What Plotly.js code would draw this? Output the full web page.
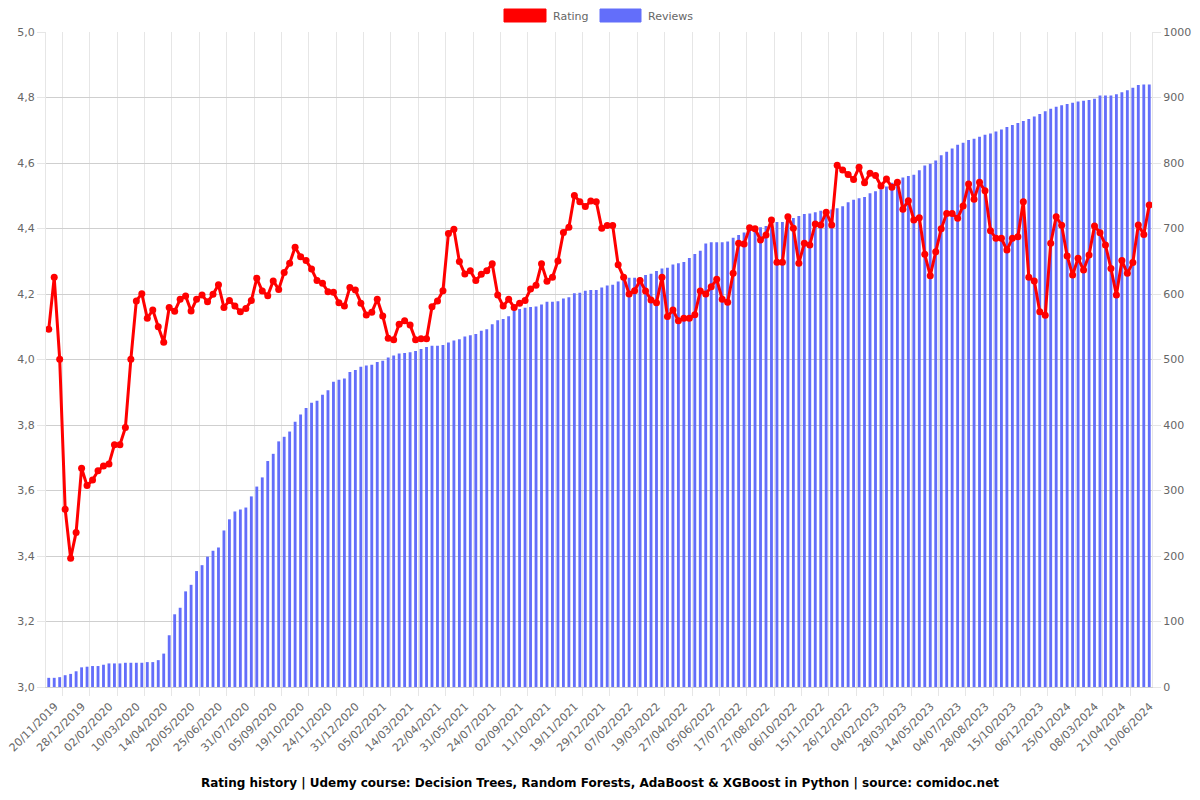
<!DOCTYPE html>
<html>
<head>
<meta charset="utf-8">
<script src="https://cdn.plot.ly/plotly-3.0.1.min.js"></script>
<style>html,body{margin:0;padding:0;background:#fff;}#chart{width:1200px;height:800px;}</style>
</head>
<body>
<div id="chart"></div>
<script>
// Tick labels shown on the category axis (every 5th category)
const tickLabels = [
  "20/11/2019","28/12/2019","02/02/2020","10/03/2020","14/04/2020","20/05/2020","25/06/2020","31/07/2020",
  "05/09/2020","19/10/2020","24/11/2020","31/12/2020","05/02/2021","14/03/2021","22/04/2021","31/05/2021",
  "24/07/2021","02/09/2021","11/10/2021","19/11/2021","29/12/2021","07/02/2022","19/03/2022","27/04/2022",
  "05/06/2022","17/07/2022","27/08/2022","06/10/2022","15/11/2022","26/12/2022","04/02/2023","28/03/2023",
  "14/05/2023","04/07/2023","28/08/2023","15/10/2023","06/12/2023","25/01/2024","08/03/2024","21/04/2024",
  "10/06/2024"
];

// Cumulative reviews (right axis)
const reviews = [
  14,14,15,18,20,24,30,31,32,32,
  34,36,36,36,37,37,37,37,38,38,
  41,51,79,111,121,146,156,177,186,199,
  208,213,239,256,268,271,274,291,306,320,
  345,356,375,382,390,405,416,426,434,437,
  446,453,466,469,471,481,484,489,491,492,
  496,498,503,506,509,510,511,513,516,519,
  521,521,522,526,529,531,535,537,539,544,
  546,554,560,562,566,576,577,579,580,581,
  584,588,588,589,593,595,601,602,605,606,
  606,610,613,614,619,624,625,625,626,629,
  631,635,639,640,645,647,649,655,661,666,
  677,679,679,679,680,686,690,694,698,700,
  702,704,707,710,710,713,716,719,722,723,
  725,727,728,729,731,734,740,744,746,748,
  754,757,760,764,770,774,778,780,782,789,
  796,799,804,812,817,822,828,831,835,837,
  840,843,845,848,851,855,858,861,864,867,
  871,875,879,883,886,888,890,892,894,895,
  896,898,903,903,903,905,908,911,915,919,
  920,920
];

// Average rating (left axis)
const rating = [
  4.092,4.251,4.001,3.543,3.393,3.472,3.668,3.615,3.632,3.660,
  3.675,3.681,3.740,3.740,3.792,4.001,4.179,4.201,4.126,4.151,
  4.100,4.053,4.159,4.147,4.184,4.194,4.148,4.184,4.197,4.176,
  4.199,4.228,4.159,4.180,4.163,4.146,4.156,4.180,4.248,4.209,
  4.195,4.240,4.214,4.266,4.294,4.343,4.314,4.302,4.276,4.241,
  4.233,4.207,4.205,4.173,4.163,4.220,4.212,4.172,4.136,4.144,
  4.184,4.133,4.065,4.060,4.108,4.118,4.105,4.060,4.063,4.063,
  4.161,4.179,4.210,4.385,4.398,4.299,4.261,4.271,4.241,4.260,
  4.271,4.292,4.197,4.163,4.184,4.159,4.172,4.180,4.215,4.227,
  4.292,4.239,4.251,4.301,4.388,4.404,4.501,4.482,4.467,4.484,
  4.482,4.401,4.409,4.409,4.289,4.251,4.200,4.210,4.241,4.209,
  4.182,4.173,4.251,4.131,4.151,4.118,4.126,4.126,4.137,4.209,
  4.200,4.222,4.245,4.184,4.175,4.263,4.355,4.353,4.402,4.399,
  4.365,4.380,4.426,4.297,4.297,4.436,4.401,4.294,4.355,4.350,
  4.414,4.411,4.450,4.411,4.593,4.579,4.565,4.550,4.587,4.540,
  4.569,4.562,4.530,4.551,4.526,4.541,4.459,4.485,4.426,4.433,
  4.321,4.256,4.329,4.399,4.446,4.446,4.431,4.469,4.536,4.489,
  4.541,4.515,4.393,4.370,4.370,4.334,4.370,4.375,4.482,4.251,
  4.240,4.146,4.135,4.355,4.436,4.410,4.316,4.258,4.309,4.273,
  4.319,4.408,4.387,4.350,4.278,4.197,4.302,4.263,4.296,4.411,
  4.382,4.472
];

const titleText = "Rating history | Udemy course: Decision Trees, Random Forests, AdaBoost & XGBoost in Python | source: comidoc.net";
const seriesNames = ["Rating", "Reviews"];
const ratingColor = "#ff0000";
const reviewsColor = "#636efa";

const N = reviews.length;
const idx = reviews.map((_, i) => i);
const labelStep = 5;
const labelVals = tickLabels.map((_, k) => k * labelStep);
const gridVals = tickLabels.slice(1).map((_, k) => k * labelStep + labelStep / 2);

// plot area in pixels (for legend/title placement)
const L = 46, R = 1152, T = 32, B = 687;
const px = x => (x - L) / (R - L);
const py = y => (B - y) / (B - T);

const gridC = "#e6e6e6";
const hGridC = "#cfcfcf";
const font = {family: "DejaVu Sans, Verdana, sans-serif", size: 11, color: "#666"};

const traces = [
  {
    type: "bar", name: seriesNames[1], x: idx, y: reviews,
    xaxis: "x", yaxis: "y",
    marker: {color: reviewsColor, line: {width: 0}},
    hoverinfo: "skip"
  },
  {
    type: "scatter", mode: "lines+markers", name: seriesNames[0], x: idx, y: rating,
    xaxis: "x2", yaxis: "y2",
    line: {color: ratingColor, width: 3},
    marker: {color: ratingColor, size: 7},
    hoverinfo: "skip"
  }
];

const layout = {
  width: 1200, height: 800,
  margin: {l: L, r: 1200 - R, t: T, b: 800 - B, pad: 0},
  paper_bgcolor: "#ffffff", plot_bgcolor: "#ffffff",
  separators: ", ",
  showlegend: false,
  font: font,
  bargap: 0.48,
  xaxis: {
    range: [-0.5, N - 0.5], tickmode: "array", tickvals: gridVals,
    showticklabels: false, ticks: "outside", ticklen: 8, tickcolor: gridC,
    showgrid: true, gridcolor: gridC, gridwidth: 1,
    showline: true, linecolor: "#d0d0d0", linewidth: 1, zeroline: false, fixedrange: true
  },
  xaxis2: {
    overlaying: "x", anchor: "y", side: "bottom",
    range: [-0.5, N - 0.5], tickmode: "array", tickvals: labelVals, ticktext: tickLabels,
    tickangle: -45, ticks: "", showgrid: false, showline: false, zeroline: false,
    ticklabeloverflow: "allow", ticklabelshift: 6, ticklabelstandoff: 10,
    tickfont: font, fixedrange: true
  },
  yaxis: {
    side: "right", range: [0, 1000], tickmode: "linear", tick0: 0, dtick: 100,
    showgrid: true, gridcolor: hGridC, gridwidth: 1,
    ticks: "outside", ticklen: 8, tickcolor: gridC,
    showline: true, linecolor: gridC, zeroline: false, tickfont: font, fixedrange: true
  },
  yaxis2: {
    overlaying: "y", side: "left", range: [3, 5], tickmode: "linear", tick0: 3, dtick: 0.2,
    tickformat: ".1f", showgrid: false,
    ticks: "outside", ticklen: 8, tickcolor: gridC,
    showline: true, linecolor: gridC, zeroline: false, tickfont: font, fixedrange: true
  },
  shapes: [
    {type: "rect", xref: "paper", yref: "paper", x0: px(504), x1: px(546), y0: py(22), y1: py(9),
     fillcolor: ratingColor, line: {color: ratingColor, width: 1}},
    {type: "rect", xref: "paper", yref: "paper", x0: px(600), x1: px(641), y0: py(22), y1: py(9),
     fillcolor: reviewsColor, line: {color: reviewsColor, width: 1}}
  ],
  annotations: [
    {xref: "paper", yref: "paper", x: px(551), y: py(16), xanchor: "left", yanchor: "middle",
     text: seriesNames[0], showarrow: false, font: font},
    {xref: "paper", yref: "paper", x: px(646), y: py(16), xanchor: "left", yanchor: "middle",
     text: seriesNames[1], showarrow: false, font: font},
    {xref: "paper", yref: "paper", x: px(600), y: py(783), xanchor: "center", yanchor: "middle",
     text: "<b>" + titleText + "</b>", showarrow: false,
     font: {family: "DejaVu Sans, Verdana, sans-serif", size: 12, color: "#000"}}
  ]
};

Plotly.newPlot("chart", traces, layout, {staticPlot: true, displayModeBar: false});
</script>
</body>
</html>
